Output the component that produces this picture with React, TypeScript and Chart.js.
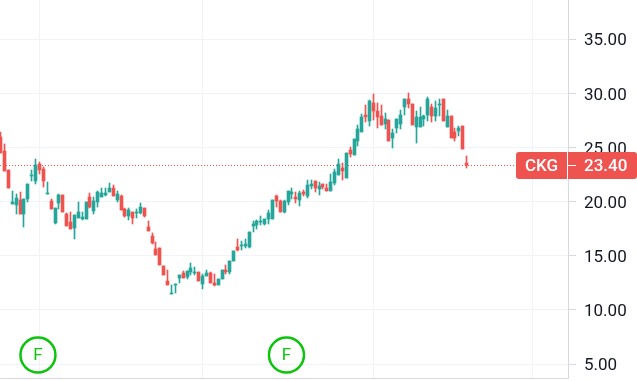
import React, { useEffect, useRef } from "react";
import { Chart, registerables } from "chart.js";

Chart.register(...registerables);

const opens = [25.98,24.66,22.91,19.77,19.68,20.14,18.85,20.23,22.35,21.89,23.46,23.0,20.69,20.05,18.02,19.86,20.6,18.85,18.11,17.55,18.48,18.38,18.38,20.42,19.12,19.95,20.42,20.6,20.88,21.25,20.14,20.51,19.31,18.66,19.03,18.94,18.94,19.4,17.65,16.82,15.6,15.69,14.03,12.65,11.45,12.28,12.92,13.38,13.02,13.48,13.38,13.48,12.37,13.11,13.38,12.46,12.28,12.83,13.66,13.48,14.49,15.78,15.88,15.88,15.78,17.72,17.82,18.09,17.91,18.37,18.37,20.49,20.03,19.02,19.94,20.68,20.4,20.12,20.86,20.49,21.45,21.91,21.17,21.63,21.26,20.98,21.72,22.46,23.11,22.18,24.77,24.31,25.6,26.43,28.0,27.45,29.11,28.37,27.91,27.17,27.54,25.88,26.8,27.17,28.74,29.48,29.02,26.89,26.89,27.63,28.0,28.74,27.91,28.92,29.48,26.89,27.91,26.43,26.52,26.98,23.55];
const highs = [26.42,25.31,22.91,20.97,20.69,20.88,20.23,21.62,22.91,23.92,23.65,23.18,21.8,20.23,19.4,20.69,20.6,18.94,19.03,18.75,19.95,19.03,19.95,20.78,20.42,20.97,21.25,21.25,21.71,21.52,20.97,20.6,19.4,19.4,19.03,19.31,19.86,19.4,18.2,17.09,16.25,15.69,14.03,13.66,12.28,12.37,13.2,13.57,13.57,14.31,13.94,13.48,13.29,13.66,13.48,13.29,12.83,13.66,14.12,14.49,15.42,16.52,16.34,16.52,17.17,18.18,18.28,18.65,18.37,19.2,20.12,20.58,20.12,20.12,20.95,21.23,20.86,20.95,21.05,21.97,22.0,21.91,21.82,21.63,21.63,22.55,23.02,23.94,23.57,24.49,25.05,25.78,27.08,28.09,28.92,29.38,29.94,29.11,28.92,28.18,27.54,26.71,27.63,28.46,29.48,30.03,29.02,28.37,28.74,28.0,29.66,29.02,29.29,29.48,29.48,28.46,27.91,26.8,26.98,26.98,24.22];
const lows = [24.51,22.82,21.25,19.77,18.85,18.85,17.65,19.95,21.89,21.62,22.54,21.34,20.69,19.31,17.92,19.31,19.03,17.74,17.46,16.54,18.48,18.29,18.38,19.4,18.85,19.49,20.42,20.51,20.88,20.51,19.95,19.22,18.57,18.29,17.92,18.48,18.85,18.57,17.28,16.08,15.05,14.12,13.2,12.28,11.45,11.54,12.46,12.92,12.83,13.2,13.2,12.65,11.91,13.11,12.46,12.18,12.28,12.83,13.29,13.29,14.49,15.42,15.51,15.69,15.69,17.17,17.45,17.82,17.82,17.91,18.37,19.48,19.02,18.92,19.66,20.22,19.85,19.57,20.49,20.31,21.17,20.89,20.62,21.17,20.98,20.98,21.54,22.46,22.0,22.18,24.12,24.31,25.14,26.43,27.35,26.98,27.54,26.8,27.08,26.71,25.6,24.95,26.34,26.71,28.0,28.65,27.08,25.42,26.89,26.98,27.45,27.35,27.45,27.91,27.45,26.89,25.88,25.6,26.06,24.86,23.11];
const closes = [24.51,22.82,21.25,19.95,20.32,18.85,20.23,21.62,22.45,23.37,22.91,21.89,20.78,19.31,19.4,20.6,19.03,17.74,17.46,18.75,19.03,18.57,19.95,19.49,20.05,20.88,20.78,20.78,21.25,20.51,20.69,19.22,18.66,19.22,18.48,19.03,19.49,18.66,17.28,16.17,15.05,14.12,13.2,12.28,11.54,12.37,13.2,12.92,13.57,13.85,13.48,12.65,13.11,13.38,12.46,12.28,12.83,13.66,13.48,14.49,15.42,15.51,15.97,16.06,17.17,17.91,18.18,18.18,18.37,18.92,20.12,20.03,19.02,20.03,20.95,20.86,20.22,20.77,20.68,21.51,21.63,21.26,21.45,21.35,20.98,21.82,22.74,23.48,22.83,24.49,24.4,25.78,26.71,27.82,27.82,29.29,28.37,27.82,27.08,27.63,25.6,26.34,27.63,28.0,29.48,29.02,27.08,27.82,27.82,27.91,29.48,27.91,28.65,29.02,27.45,27.91,25.88,25.88,26.8,24.86,23.4];

const yTickValues = [5, 10, 15, 20, 25, 30, 35];
const xGridIndexes = [10.0, 51.98, 96.0, 136.96];
const earningsIndexes = [9.6, 73.6];
const earningsLevel = 5.83;
const earningsLabel = "F";
const symbol = "CKG";
const lastPrice = 23.4;

const RED = "#ef5350";
const GREEN = "#26a69a";
const BADGE = "#0cc40c";
const GRID = "#f0f3fa";
const AXIS = "#d6d8de";
const FONT = "Roboto, sans-serif";

const indexes = opens.map((_, i) => i);
const candleColors = indexes.map((i) => (closes[i] >= opens[i] ? GREEN : RED));
const X_MIN = -0.172;
const X_MAX = 146.1;

const snapPlugin = {
  id: "snap",
  beforeDraw(chart: any) {
    chart.scales.y.getLabelItems(chart.chartArea).forEach((item: any) => {
      item.textOffset = 2;
    });
  },
  beforeDatasetsDraw(chart: any) {
    chart.data.datasets.forEach((ds: any, di: number) => {
      const els = chart.getDatasetMeta(di).data;
      if (ds.type === "line") {
        els.forEach((el: any) => {
          el.y = Math.round(el.y) + 0.5;
        });
      }
      if (ds.type !== "bar") return;
      els.forEach((el: any) => {
        const top = Math.round(Math.min(el.y, el.base));
        let bottom = Math.round(Math.max(el.y, el.base));
        if (bottom <= top) bottom = top + 1;
        el.x = Math.floor(el.x) + 0.5;
        el.y = top;
        el.base = bottom;
      });
    });
  },
};

const overlayPlugin = {
  id: "overlay",
  afterDraw(chart: any) {
    const { ctx, scales } = chart;
    const x = scales.x;
    const y = scales.y;
    ctx.save();
    ctx.fillStyle = BADGE;
    ctx.font = `400 17px ${FONT}`;
    ctx.textAlign = "center";
    ctx.textBaseline = "middle";
    earningsIndexes.forEach((i) => {
      ctx.fillText(earningsLabel, x.getPixelForValue(i), y.getPixelForValue(earningsLevel) + 1);
    });

    const py = Math.round(y.getPixelForValue(lastPrice));
    ctx.fillStyle = RED;
    ctx.beginPath();
    ctx.roundRect(516, py - 13, 121, 27, 3);
    ctx.fill();
    ctx.fillStyle = "#ffffff";
    ctx.fillRect(567, py - 13, 1, 27);
    ctx.fillRect(568, py, 8, 1);
    ctx.font = `500 17px ${FONT}`;
    ctx.textAlign = "center";
    ctx.fillText(symbol, 541.5, py + 2);
    ctx.textAlign = "left";
    ctx.fillText(lastPrice.toFixed(2), 584, py + 2);
    ctx.restore();
  },
};

export default function App() {
  const ref = useRef<HTMLCanvasElement | null>(null);
  useEffect(() => {
    document.body.style.margin = "0";
    document.body.style.background = "#ffffff";
    const chart = new Chart(ref.current as HTMLCanvasElement, {
      type: "bar",
      data: {
        datasets: [
          {
            type: "line",
            data: [
              { x: X_MIN, y: lastPrice },
              { x: X_MAX, y: lastPrice },
            ],
            borderColor: RED,
            borderWidth: 1,
            borderDash: [1, 2],
            pointRadius: 0,
            order: 5,
          },
          {
            type: "bar",
            data: indexes.map((i) => ({ x: i, y: [lows[i], highs[i]] })),
            backgroundColor: candleColors,
            barThickness: 1,
            grouped: false,
            order: 4,
          },
          {
            type: "bar",
            data: indexes.map((i) => ({ x: i, y: [opens[i], closes[i]] })),
            backgroundColor: candleColors,
            barThickness: 3,
            grouped: false,
            order: 3,
          },
          {
            type: "scatter",
            data: earningsIndexes.map((i) => ({ x: i, y: earningsLevel })),
            pointStyle: "circle",
            pointRadius: 17.5,
            pointBorderWidth: 2.5,
            pointBorderColor: BADGE,
            pointBackgroundColor: "rgba(255,255,255,0)",
            clip: false,
            order: 1,
          },
        ] as any,
      },
      options: {
        responsive: false,
        animation: false,
        layout: { padding: 0, autoPadding: false },
        plugins: { legend: { display: false }, tooltip: { enabled: false } },
        scales: {
          x: {
            type: "linear",
            min: X_MIN,
            max: X_MAX,
            offset: false,
            grid: { color: GRID, drawTicks: false, offset: false },
            border: { display: true, color: AXIS },
            ticks: { display: false },
            afterBuildTicks: (s: any) => {
              s.ticks = xGridIndexes.map((value) => ({ value }));
            },
            afterFit: (s: any) => {
              s.height = 3;
              s.paddingLeft = 0;
              s.paddingRight = 0;
            },
          },
          y: {
            position: "right",
            min: 3.71,
            max: 38.61,
            grid: { color: GRID, drawTicks: true, tickLength: 8, tickColor: AXIS },
            border: { display: true, color: AXIS },
            ticks: {
              color: "#131722",
              font: { family: FONT, size: 17 },
              padding: 8,
              callback: (v: any) => Number(v).toFixed(2),
            },
            afterBuildTicks: (s: any) => {
              s.ticks = yTickValues.map((value) => ({ value }));
            },
            afterFit: (s: any) => {
              s.width = 69;
              s.paddingTop = 0;
              s.paddingBottom = 0;
            },
          },
        },
      } as any,
      plugins: [snapPlugin, overlayPlugin],
    });
    return () => chart.destroy();
  }, []);
  return (
    <div style={{ width: 637, height: 381 }}>
      <canvas ref={ref} width={637} height={381} style={{ display: "block" }} />
    </div>
  );
}
